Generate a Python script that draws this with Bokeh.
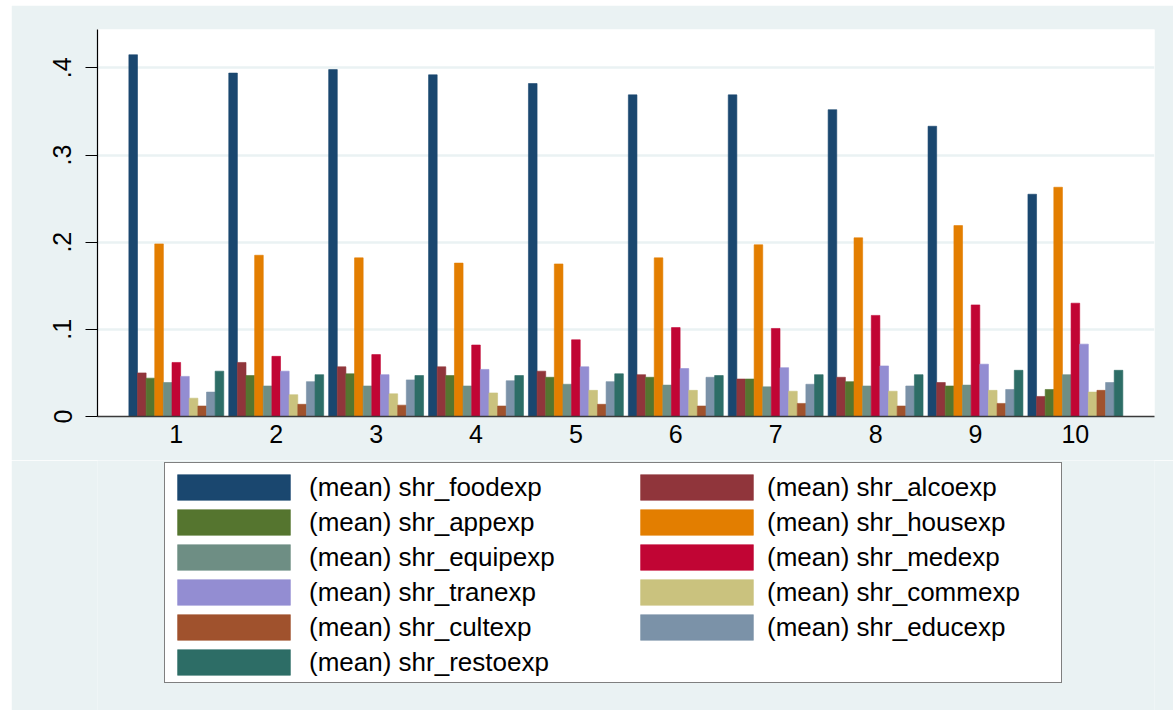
from bokeh.plotting import figure
from bokeh.models import ColumnDataSource, FixedTicker, Legend, LegendItem, Range1d
from bokeh.layouts import column
from bokeh.embed import file_html
from bokeh.resources import INLINE

# ---------------- data ----------------
groups = [1, 2, 3, 4, 5, 6, 7, 8, 9, 10]
group_labels = ["1", "2", "3", "4", "5", "6", "7", "8", "9", "10"]

shr_foodexp = [0.415, 0.394, 0.398, 0.392, 0.382, 0.369, 0.369, 0.352, 0.333, 0.255]
shr_alcoexp = [0.050, 0.062, 0.057, 0.057, 0.052, 0.048, 0.043, 0.045, 0.039, 0.023]
shr_appexp = [0.044, 0.047, 0.049, 0.047, 0.045, 0.045, 0.043, 0.040, 0.035, 0.031]
shr_housexp = [0.198, 0.185, 0.182, 0.176, 0.175, 0.182, 0.197, 0.205, 0.219, 0.263]
shr_equipexp = [0.039, 0.035, 0.035, 0.035, 0.037, 0.036, 0.034, 0.035, 0.036, 0.048]
shr_medexp = [0.062, 0.069, 0.071, 0.082, 0.088, 0.102, 0.101, 0.116, 0.128, 0.130]
shr_tranexp = [0.046, 0.052, 0.048, 0.054, 0.057, 0.055, 0.056, 0.058, 0.060, 0.083]
shr_commexp = [0.021, 0.025, 0.026, 0.027, 0.030, 0.030, 0.029, 0.029, 0.030, 0.028]
shr_cultexp = [0.012, 0.014, 0.013, 0.012, 0.014, 0.012, 0.015, 0.012, 0.015, 0.030]
shr_educexp = [0.028, 0.040, 0.042, 0.041, 0.040, 0.045, 0.037, 0.035, 0.031, 0.039]
shr_restoexp = [0.052, 0.048, 0.047, 0.047, 0.049, 0.047, 0.048, 0.048, 0.053, 0.053]

series_names = ["shr_foodexp", "shr_alcoexp", "shr_appexp", "shr_housexp",
                "shr_equipexp", "shr_medexp", "shr_tranexp", "shr_commexp",
                "shr_cultexp", "shr_educexp", "shr_restoexp"]
series_values = [shr_foodexp, shr_alcoexp, shr_appexp, shr_housexp,
                 shr_equipexp, shr_medexp, shr_tranexp, shr_commexp,
                 shr_cultexp, shr_educexp, shr_restoexp]
colors = ["#1A476F", "#90353B", "#55752F", "#E37E00", "#6E8E84", "#C10534",
          "#938DD2", "#CAC27E", "#A0522D", "#7B92A8", "#2D6D66"]

y_ticks = [0, 0.1, 0.2, 0.3, 0.4]
y_tick_labels = ["0", ".1", ".2", ".3", ".4"]

# ---------------- chart figure ----------------
BG = "#EAF2F3"
FONT = "Liberation Sans"

p = figure(width=1162, height=455, output_backend="svg", toolbar_location=None,
           x_range=Range1d(0.211, 10.792), y_range=Range1d(0, 0.444),
           min_border_left=86, min_border_right=19, min_border_top=24,
           min_border_bottom=44)
p.border_fill_color = BG
p.background_fill_color = "white"
p.outline_line_color = None

n = len(series_names)
bar_w = 0.95 / n
sources = []
for j, (name, vals, col) in enumerate(zip(series_names, series_values, colors)):
    offset = (j - (n - 1) / 2) * bar_w
    src = ColumnDataSource(dict(x=[g + offset for g in groups], top=vals))
    sources.append(src)
    p.vbar(x="x", top="top", width=bar_w, bottom=0, source=src,
           fill_color=col, line_color=col, line_width=0.6)

p.xaxis.ticker = FixedTicker(ticks=groups)
p.xaxis.major_label_overrides = {g: lab for g, lab in zip(groups, group_labels)}
p.xaxis.major_tick_out = 0
p.xaxis.major_tick_in = 0
p.xaxis.minor_tick_line_color = None
p.xaxis.axis_line_color = "#3a3a3a"
p.xaxis.axis_line_width = 1.6
p.xaxis.major_label_text_font = FONT
p.xaxis.major_label_text_font_size = "25px"
p.xaxis.major_label_text_color = "black"
p.xaxis.major_label_standoff = 8

p.yaxis.ticker = FixedTicker(ticks=y_ticks)
p.yaxis.major_label_overrides = {t: lab for t, lab in zip(y_ticks, y_tick_labels)}
p.yaxis.major_label_orientation = "vertical"
p.yaxis.major_tick_out = 12
p.yaxis.major_tick_in = 0
p.yaxis.major_tick_line_color = "black"
p.yaxis.minor_tick_line_color = None
p.yaxis.axis_line_color = "black"
p.yaxis.axis_line_width = 1.2
p.yaxis.major_label_text_font = FONT
p.yaxis.major_label_text_font_size = "25px"
p.yaxis.major_label_text_color = "black"
p.yaxis.major_label_standoff = 14

p.xgrid.grid_line_color = None
p.ygrid.grid_line_color = BG
p.ygrid.grid_line_width = 2.5

# ---------------- legend figure ----------------
# ranges chosen so the (shared) bar data lies entirely outside the view;
# the renderers here only feed the legend swatches
q = figure(width=1162, height=250, output_backend="svg", toolbar_location=None,
           x_range=Range1d(50, 51), y_range=Range1d(50, 51),
           x_axis_type=None, y_axis_type=None,
           min_border_left=86, min_border_right=19, min_border_top=0,
           min_border_bottom=0)
q.border_fill_color = BG
q.background_fill_color = BG
q.outline_line_color = None
q.grid.visible = False

legend_renderers = []
for src, col in zip(sources, colors):
    r = q.vbar(x="x", top="top", width=bar_w, bottom=0, source=src,
               fill_color=col, line_color=col, line_width=0.6)
    legend_renderers.append(r)
box_renderer = q.vbar(x="x", top="top", width=bar_w, bottom=0, source=sources[0],
                      fill_alpha=0, line_alpha=0)

# white framed box of the legend
box = Legend(items=[LegendItem(label=" ", renderers=[box_renderer])],
             location=(67, 27), padding=0, spacing=0,
             glyph_width=10, glyph_height=219, label_standoff=0,
             label_width=886, label_height=219,
             label_text_font_size="10px",
             border_line_color="black", border_line_width=1.6,
             background_fill_color="white", background_fill_alpha=1.0)
q.add_layout(box, "center")

common = dict(padding=0, spacing=3, glyph_width=141, glyph_height=32,
              label_width=10, label_text_font=FONT, label_text_font_size="26px",
              label_text_color="black", border_line_color=None,
              background_fill_alpha=0)

left_idx = [0, 2, 4, 6, 8, 10]
right_idx = [1, 3, 5, 7, 9]
legend_left = Legend(items=[LegendItem(label="(mean) " + series_names[i],
                                       renderers=[legend_renderers[i]])
                            for i in left_idx],
                     location=(66, 32), label_standoff=5, **common)
legend_right = Legend(items=[LegendItem(label="(mean) " + series_names[i],
                                        renderers=[legend_renderers[i]])
                             for i in right_idx],
                      location=(529, 67), label_standoff=0, **common)
q.add_layout(legend_left, "center")
q.add_layout(legend_right, "center")

layout = column(p, q, spacing=0)
layout.styles = {"margin-left": "11px", "margin-top": "5px"}

open("out.html", "w").write(file_html(layout, INLINE))
